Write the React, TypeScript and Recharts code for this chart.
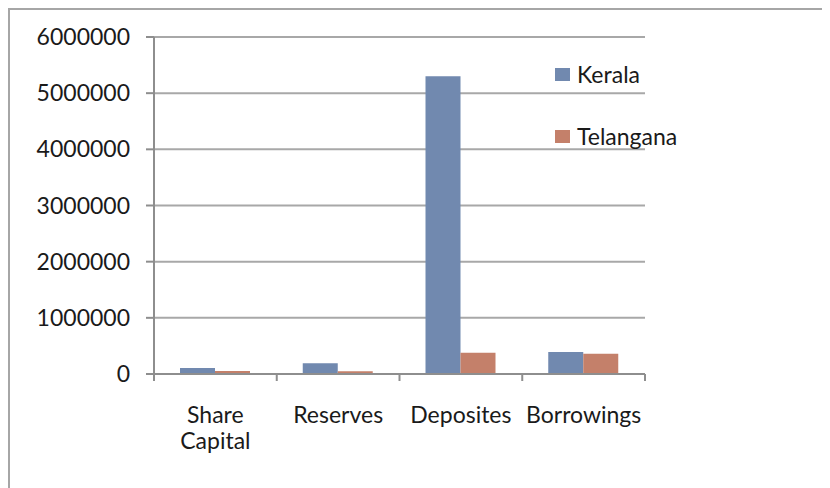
import { BarChart, Bar, XAxis, YAxis, CartesianGrid, Legend } from 'recharts';

const categories = ['Share Capital', 'Reserves', 'Deposites', 'Borrowings'];
const kerala = [107000, 190000, 5300000, 393000];
const telangana = [52000, 48000, 380000, 362000];
const yTicks = [0, 1000000, 2000000, 3000000, 4000000, 5000000, 6000000];

const KERALA = '#7189af';
const TELANGANA = '#c4806a';
const AXIS = '#8e8e8e';
const GRID = '#a8a8a8';
const FONT = 'Lato, "Open Sans", sans-serif';

const data = categories.map((name, i) => ({ name, kerala: kerala[i], telangana: telangana[i] }));

const series = [
  { key: 'kerala', label: 'Kerala', color: KERALA },
  { key: 'telangana', label: 'Telangana', color: TELANGANA },
];

// excel style: ticks sit on the category borders, labels wrap onto lines
const CategoryTick = (props: any) => {
  const { x, y, payload, index, visibleTicksCount, width } = props;
  const half = payload?.offset ?? (width ?? 491) / (visibleTicksCount ?? 4) / 2;
  const lines = String(payload.value).split(' ');
  const last = index === (visibleTicksCount ?? 4) - 1;
  return (
    <g>
      <line x1={x - half} x2={x - half} y1={y} y2={y + 7} stroke={AXIS} strokeWidth={2} />
      {last && <line x1={x + half} x2={x + half} y1={y} y2={y + 7} stroke={AXIS} strokeWidth={2} />}
      <text x={x} y={y + 49} textAnchor="middle" fill="#1a1a1a" fontSize={23} fontFamily={FONT}>
        {lines.map((l, i) => (
          <tspan key={l} x={x} dy={i === 0 ? 0 : 26}>{l}</tspan>
        ))}
      </text>
    </g>
  );
};

const LegendContent = () => (
  <div style={{ fontFamily: FONT, fontSize: 23, color: '#1a1a1a' }}>
    {series.map(s => (
      <div key={s.key} style={{ display: 'flex', alignItems: 'center', height: 24, marginBottom: 38 }}>
        <span style={{ display: 'inline-block', width: 15, height: 13, background: s.color, marginRight: 7 }} />
        <span style={{ lineHeight: '24px' }}>{s.label}</span>
      </div>
    ))}
  </div>
);

export default function App() {
  return (
    <div
      style={{
        position: 'relative',
        width: 820,
        height: 478,
        borderTop: '2px solid #a6a6a6',
        borderLeft: '2px solid #a6a6a6',
        background: '#fff',
      }}
    >
      <BarChart
        width={820}
        height={478}
        data={data}
        margin={{ top: 27, right: 185, bottom: 14, left: 0 }}
        barSize={35}
        barGap={0}
      >
        <CartesianGrid vertical={false} stroke={GRID} strokeWidth={2} />
        <XAxis
          dataKey="name"
          height={100}
          stroke={AXIS}
          strokeWidth={2}
          tickLine={false}
          tickSize={0}
          tickMargin={0}
          interval={0}
          tick={<CategoryTick />}
        />
        <YAxis
          width={144}
          domain={[0, 6000000]}
          ticks={yTicks}
          interval={0}
          stroke={AXIS}
          strokeWidth={2}
          tickSize={8}
          tickMargin={16}
          tick={{ fill: '#1a1a1a', fontSize: 23, fontFamily: FONT }}
        />
        <Legend
          layout="vertical"
          align="center"
          verticalAlign="middle"
          content={<LegendContent />}
          wrapperStyle={{ left: 545, top: 52, width: 200 }}
        />
        {series.map(s => (
          <Bar key={s.key} dataKey={s.key} name={s.label} fill={s.color} isAnimationActive={false} />
        ))}
      </BarChart>
    </div>
  );
}
